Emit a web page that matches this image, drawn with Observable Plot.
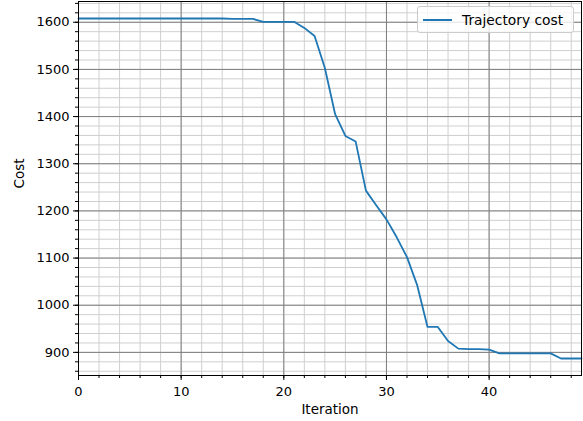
<!DOCTYPE html>
<html>
<head>
<meta charset="utf-8">
<script src="https://cdn.jsdelivr.net/npm/d3@7"></script>
<script src="https://cdn.jsdelivr.net/npm/@observablehq/plot@0.6"></script>
<style>
  html, body { margin: 0; padding: 0; background: #fff; }
  #wrap { position: relative; width: 583px; height: 421px; font-family: "DejaVu Sans", sans-serif; }
  #legend {
    position: absolute; left: 417px; top: 6px; width: 157px; height: 27px;
    box-sizing: border-box; border: 1px solid #cccccc; border-radius: 3px;
    background: rgba(255,255,255,0.8); font-size: 13.8px; color: #000;
    display: flex; align-items: center;
  }
  #legend .sw { display: inline-block; width: 29px; height: 0; border-top: 2px solid #1f77b4; margin-left: 5px; margin-right: 10px; }
</style>
</head>
<body>
<div id="wrap">
  <div id="chart"></div>
  <div id="legend"><span class="sw"></span><span>Trajectory cost</span></div>
</div>
<script>
const iterations = [0,1,2,3,4,5,6,7,8,9,10,11,12,13,14,15,16,17,18,19,20,21,22,23,24,25,26,27,28,29,30,31,32,33,34,35,36,37,38,39,40,41,42,43,44,45,46,47,48,49];
const costs = [1608,1608,1608,1608,1608,1608,1608,1608,1608,1608,1608,1608,1608,1608,1608,
               1607,1607,1607,1601,1601,1601,1601,1588,1571,1503,1405,1359,1347,1243,1212,
               1182,1144,1102,1042,954,954,924,908,907,907,906,898,898,898,898,898,898,887,887,887];
const xMajor = [0,10,20,30,40];
const xMinor = [0,2,4,6,8,10,12,14,16,18,20,22,24,26,28,30,32,34,36,38,40,42,44,46,48];
const yMajor = [900,1000,1100,1200,1300,1400,1500,1600];
const yMinor = [860,880,900,920,940,960,980,1000,1020,1040,1060,1080,1100,1120,1140,1160,1180,1200,1220,1240,1260,1280,1300,1320,1340,1360,1380,1400,1420,1440,1460,1480,1500,1520,1540,1560,1580,1600,1620,1640];
const xLabel = "Iteration";
const yLabel = "Cost";

const data = iterations.map((it, i) => ({it, cost: costs[i]}));

const chart = Plot.plot({
  width: 583,
  height: 421,
  marginLeft: 78,
  marginRight: 2,
  marginTop: 1,
  marginBottom: 46,
  style: {fontFamily: "DejaVu Sans", fontSize: "13px", color: "#000", background: "#fff"},
  x: {domain: [0, 49]},
  y: {domain: [851, 1644]},
  marks: [
    Plot.gridX(xMinor, {stroke: "#cfcfcf", strokeOpacity: 1, strokeWidth: 1}),
    Plot.gridY(yMinor, {stroke: "#cfcfcf", strokeOpacity: 1, strokeWidth: 1}),
    Plot.gridX(xMajor, {stroke: "#7f7f7f", strokeOpacity: 1, strokeWidth: 1}),
    Plot.gridY(yMajor, {stroke: "#7f7f7f", strokeOpacity: 1, strokeWidth: 1}),
    Plot.line(data, {x: "it", y: "cost", stroke: "#1f77b4", strokeWidth: 1.8}),
    Plot.axisX(xMinor, {text: null, tickSize: 3, label: null}),
    Plot.axisY(yMinor, {text: null, tickSize: 3, label: null}),
    Plot.axisX(xMajor, {tickSize: 5, tickPadding: 6, label: null, tickFormat: d => String(d)}),
    Plot.axisY(yMajor, {tickSize: 5, tickPadding: 4, label: null, tickFormat: d => String(d)}),
    Plot.frame({stroke: "#000", strokeWidth: 1}),
    Plot.text([xLabel], {frameAnchor: "bottom", dy: 38, fill: "#000", fontSize: 13.5}),
    Plot.text([yLabel], {frameAnchor: "left", dx: -59, rotate: -90, fill: "#000", fontSize: 13.5})
  ]
});
document.getElementById("chart").appendChild(chart);
</script>
</body>
</html>
